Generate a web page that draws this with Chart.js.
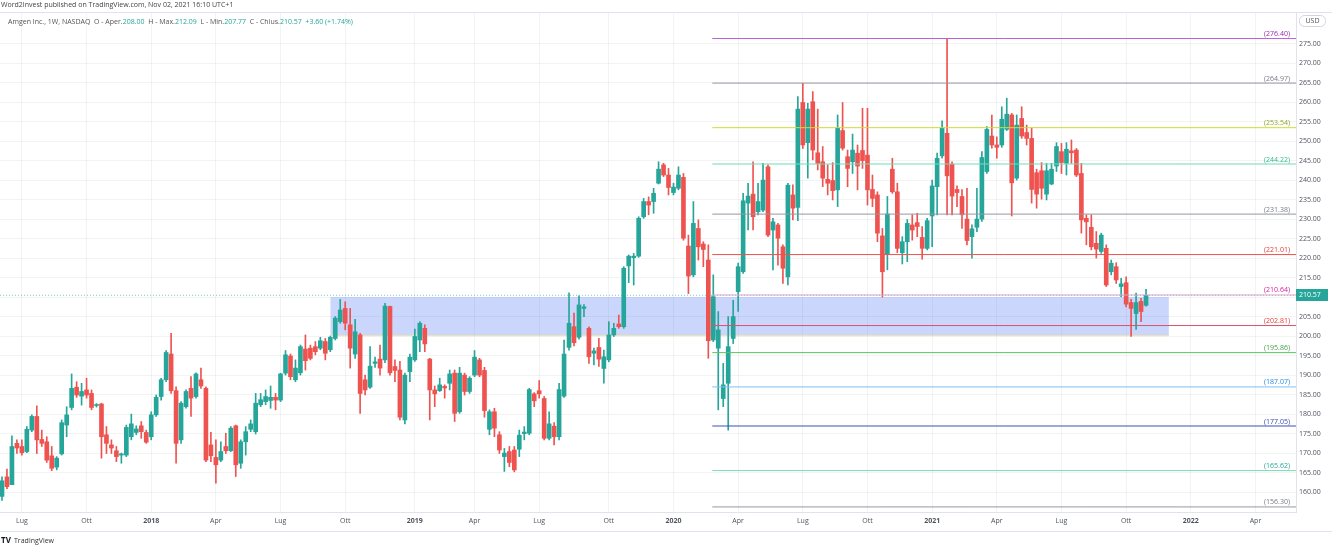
<!DOCTYPE html>
<html>
<head>
<meta charset="utf-8">
<script src="https://cdn.jsdelivr.net/npm/chart.js@4"></script>
<style>
  html, body { margin: 0; padding: 0; background: #fff; }
  #wrap { width: 1332px; height: 550px; }
</style>
</head>
<body>
<div id="wrap"><canvas id="chart" width="1332" height="550"></canvas></div>
<script>
// weekly candles, first one is the week 30 weeks before 2018-01-01
const firstWeek = -30;

const opens = [
  159, 164, 162, 172.6, 171.8, 170.5, 176, 179.5, 173.6, 173, 169.4, 166.5, 169.9, 177.3, 181.8, 187, 184.7, 186.3, 185.4, 182.3, 182.7, 174.8, 172.2, 170.7, 169.6, 169.6, 174.3, 175.4, 177.1, 175.4,
  174.3, 179.9, 184.6, 188.9, 195.5, 186.1, 173.5, 182, 186.7, 184.6, 188.9, 186.7, 172.2, 169, 168.3, 171.8, 170.7, 177.1, 167.5, 173, 176.2, 175.6, 182.5, 183.3, 183.6, 184.4, 183.7, 190.6, 195, 188.9, 190.7, 196.8, 197, 197.4, 197, 198.7, 196.6, 199.5, 203.8, 207.2, 203,
  195.5, 200.4, 188.9, 187, 193.1, 194.2, 194, 207.7, 192.3, 191.4, 178.6, 191, 194, 199.1, 202.1, 194.2, 186.3, 186.1, 187.2, 188, 190.6, 180.7, 190.1, 185.9, 190.1, 194, 191.3, 176.2, 180.7, 174.8, 169.2, 170.5, 170.9, 171.1,
  175.1, 175.2, 185.3, 186.1, 184.1, 173.9, 177, 174.3, 184.7, 197.2, 202.5, 199.8, 207.2, 202.1, 195.7, 197.2, 191.8, 194, 200.4, 203.2, 202.5, 218.1, 220.2, 220.6, 230.7, 234.6, 234.6, 239.3, 244, 241.4, 236.9, 238,
  240.8, 223.2, 215.8, 227.7, 223.7, 219.6, 199.1, 197, 184.1, 188, 199.5, 211.5, 216.6, 234.2, 236.5, 232, 232.4, 243.5, 227.3, 228.6, 223, 215.3, 236.3,
  233.1, 260, 249.7, 260.2, 247.1, 244.8, 240.3, 240, 237.6, 252.8, 246.1, 244.8, 247, 247.7, 246.5, 237.7, 236.3, 225.8, 221.2, 242.9, 237.1, 221.5, 224.3, 228.6, 229.2, 225.4, 222.6, 230.9, 238.4,
  246.3, 252.1, 244.2, 237.7, 235.9, 230.1, 225.6, 228, 230.1, 242.3, 251.4, 249.1, 249.1, 253.1, 256.8, 240.6, 255.9, 252.3, 250.8, 242, 242.5, 236.5, 239.1, 243.7, 247.4, 244.4,
  247.6, 247.8, 241.8, 230.3, 228, 223.9, 221.8, 222.6, 216.6, 217.9, 212.8, 213.8, 208.7, 205.9, 209, 208
];
const highs = [
  164, 166, 174.5, 173.5, 173.5, 176.9, 179.9, 182.2, 176, 174.3, 171.8, 169.2, 178.6, 182, 190.4, 188.4, 188, 189.3, 186.3, 182.8, 182.9, 176.9, 173.5, 171.8, 170.1, 177.3, 180.1, 177.1, 178.2, 176,
  180.7, 185, 189.3, 196.4, 200.8, 187.1, 183.3, 186.3, 189.7, 190.7, 191.9, 187.1, 175.4, 173.5, 173, 175.2, 176.9, 177.3, 173.5, 176.9, 178.6, 185.4, 185.4, 186.3, 187.3, 185.4, 190.6, 196.4, 195.5, 194, 197.8, 200.4, 197.8, 198.7, 199.8, 199.5, 200.1, 205.1, 209.5, 208.9, 207.2,
  204.4, 200.8, 190.1, 197.4, 194.7, 197.8, 208.5, 207.8, 194, 193.6, 190.6, 195.5, 201.9, 203.8, 203, 194.4, 187.3, 189.3, 187.6, 191.4, 191.4, 192.1, 190.6, 189.7, 196.4, 194.4, 192.1, 181.2, 181.6, 175.6, 171.3, 171.8, 171.8, 176,
  176.9, 186.7, 185.6, 188.7, 184.6, 180.7, 177.9, 188, 199.1, 211.2, 206, 210.4, 208.2, 202.5, 197, 199.5, 196.5, 203.8, 203.4, 205.5, 217.9, 220.9, 221.3, 230.7, 235.4, 235.8, 238, 244.8, 244.4, 243.1, 239.3, 243.5,
  241.8, 226, 234.6, 229.9, 224.3, 223.5, 215.8, 206.4, 193.1, 205.1, 209.3, 218.8, 236.7, 239.3, 244.8, 239.3, 244.4, 244, 230.3, 229, 223.5, 239.3, 238.9,
  261.5, 264.9, 259.8, 262.8, 258.3, 248.7, 244, 244.6, 256.8, 260, 247.8, 251.9, 249.1, 258.5, 258.5, 241.4, 237.1, 227.7, 235.9, 245.7, 239.3, 225.6, 230, 231.2, 231.6, 228.2, 230.3, 240.1, 247,
  255.3, 276.4, 244.8, 238.6, 237.7, 238, 228.6, 238, 247.4, 253.8, 256.8, 251.2, 258.9, 261.1, 257.2, 256.8, 258.9, 254.2, 253.4, 242.9, 244.6, 244.4, 244.4, 249.7, 249.5, 249.7,
  250.4, 248.2, 244.4, 231.2, 231.2, 226.9, 226.5, 223.5, 219.6, 218.9, 214.9, 215.3, 209.5, 211.1, 209.8, 212.09
];
const lows = [
  158, 161, 162, 170, 169.6, 170.2, 175.6, 170, 171.8, 167.7, 165.6, 165.8, 169.6, 174.3, 181.2, 184.4, 182.4, 184.2, 181.2, 181.9, 168.8, 170, 170, 167.9, 167.5, 169.2, 173.5, 174.8, 173.9, 172.6,
  173.5, 179.5, 183.7, 188.4, 185.4, 167.5, 172.6, 181.6, 179.5, 184.2, 186.7, 167.9, 167.9, 162.4, 167.9, 170, 170.5, 164.1, 166.2, 169.6, 175.6, 175, 182, 182.5, 181.6, 181.2, 183.3, 190.1, 188.9, 188.4, 190.1, 191.4, 194, 195.3, 196.6, 194, 196.1, 199.1, 203.4, 201.7, 191.9,
  194.4, 180.3, 185, 186.7, 192.1, 190.1, 193.3, 190.1, 188.4, 178.6, 177.6, 188.4, 193.6, 196.1, 196.1, 178.6, 182, 185.9, 184.2, 186.3, 178.2, 180.3, 185, 185.4, 189.7, 189.7, 179.3, 174.8, 174.3, 170, 165.4, 166.6, 165.3, 169.2,
  173.5, 174.8, 182, 184.2, 173.5, 173.5, 172.2, 173.5, 184.4, 196.5, 197.6, 199.3, 205.1, 193.1, 192.7, 192.3, 188, 193.5, 200, 202.1, 202.1, 213.8, 213.2, 220.3, 230.3, 231.2, 231.6, 239.1, 241, 236.3, 236.3, 237.6,
  224.7, 211, 215.3, 219.6, 217.9, 194.4, 198.7, 181.2, 182, 176, 198.2, 206.4, 216.2, 227.3, 227.3, 231.2, 232, 225.6, 217.1, 218.3, 213.6, 213.2, 229.9,
  229.7, 248.2, 240.6, 245.3, 242.7, 238.4, 236.3, 235, 233.3, 247.8, 238.4, 241.8, 237.6, 243.1, 233.7, 233.3, 224.3, 210.1, 217.1, 236.7, 221.5, 218.6, 219.2, 224.7, 225.6, 219.8, 222.2, 223, 231.2,
  245.7, 231.2, 231.2, 233.3, 227.7, 223.5, 220.1, 226.9, 229.5, 241.8, 248.3, 245.7, 248.5, 252.8, 230.9, 240.1, 250.8, 249.1, 234.2, 232.9, 235.2, 235, 238.9, 242.3, 241.8, 241.4,
  244.4, 241, 226.5, 223.5, 222.2, 220.1, 221.3, 212.8, 215.8, 213.6, 210.2, 207.6, 200, 201.8, 203.8, 207.77
];
const closes = [
  163, 161.5, 171.8, 171.4, 170.2, 176.2, 179.5, 173.5, 172.6, 168.3, 166.2, 168.8, 177.9, 179.9, 186.7, 185, 185.9, 185, 181.8, 182.5, 174.3, 172.6, 171.4, 169.2, 169.9, 176.7, 177.6, 176.3, 175.6, 172.9,
  179.9, 184.4, 188.9, 195.9, 186.1, 172.6, 182.9, 185.9, 184.2, 190.4, 187.3, 168.3, 169.4, 167.1, 170.5, 170.7, 176.5, 167.1, 173, 175.6, 177.6, 182.9, 183.8, 184.6, 184.4, 183.7, 190.4, 195.3, 189.7, 191.9, 197.4, 193.8, 194.4, 196.1, 198.9, 195.7, 199.8, 204.7, 206.8, 203.4, 197,
  201.2, 185.4, 186.3, 192.4, 193.5, 191.9, 207.8, 190.7, 191.3, 179.3, 190.1, 194.7, 200, 203.4, 198.1, 186.3, 185.3, 187.6, 186.8, 190.4, 180.3, 190.6, 185.9, 189.3, 194.7, 190.1, 181, 180.7, 176.5, 170.9, 170.1, 167.7, 165.8, 174.7,
  175.5, 186.4, 183.5, 185.3, 173.9, 177.6, 174.3, 186.4, 195.5, 203.4, 198.4, 208.1, 207.6, 194.8, 196.3, 194.2, 194.8, 200.4, 202.1, 202.5, 217.5, 220.6, 220.6, 230.3, 234.6, 233.7, 236.7, 242.9, 241.4, 238.2, 238.3, 241.4,
  225.2, 215.5, 229, 223, 222.3, 198.9, 210.2, 201.7, 187.6, 197.4, 205.1, 217.9, 234.8, 236, 230.7, 234.6, 240.1, 226, 229.4, 225.2, 217.5, 238.8, 232.9,
  258.3, 249.1, 258.3, 247.8, 244.4, 240.6, 239.3, 237.4, 253.4, 248.3, 243.1, 247.8, 243.7, 245.1, 237.6, 235.4, 226.5, 216.6, 231.4, 237.1, 222.6, 224.3, 229, 227.3, 228.2, 222.6, 229.7, 238.6, 245.7,
  253.4, 241.2, 236, 236.9, 231.2, 224.6, 227.6, 230.1, 245.9, 253.1, 249.1, 248.5, 255.7, 257, 239.4, 254.2, 251.4, 250.8, 237.7, 236.5, 238, 242.5, 242.9, 248.7, 244.6, 248,
  247.1, 241.4, 229.9, 229.4, 223, 222.4, 226, 213.2, 218.8, 214.5, 213.5, 208.3, 207.2, 208.7, 206.4, 210.57
];

// x axis labels (week index of first bar of the month)
const tickWeeks = [-26, -13, 0, 13, 26, 39, 53, 65, 78, 92, 105, 118, 131, 144, 157, 170, 183, 196, 209, 222];
const tickLabels = ['Lug', 'Ott', '2018', 'Apr', 'Lug', 'Ott', '2019', 'Apr', 'Lug', 'Ott', '2020', 'Apr', 'Lug', 'Ott', '2021', 'Apr', 'Lug', 'Ott', '2022', 'Apr'];
const priceTicks = [160, 165, 170, 175, 180, 185, 190, 195, 200, 205, 210, 215, 220, 225, 230, 235, 240, 245, 250, 255, 260, 265, 270, 275];

// drawn levels and the support zone
const levels = [276.40, 264.97, 253.54, 244.22, 231.38, 221.01, 210.64, 202.81, 195.86, 187.07, 177.05, 165.62, 156.30];
const levelStart = 112.8;
const zoneWeeks = [36, 204.6];
const zoneTop = 210.1;
const zoneBottom = 200.2;
const prevClose = 206.97;

const levelLineColors = ['#b763d6', '#9598a1', '#cddc39', '#6fdcba', '#9598a1', '#ef5350', '#dba6cb', '#d9536b', '#5bc35f', '#7cc0f0', '#3f51b5', '#7ddcb4', '#9598a1'];
const levelTextColors = ['#9c27b0', '#787b86', '#8da52b', '#2fb98f', '#787b86', '#e53935', '#d81b9a', '#e53935', '#43a047', '#1e88e5', '#3949ab', '#26a69a', '#787b86'];

const upColor = '#26a69a';
const downColor = '#ef5350';
const xMin = -30.4, xMax = 230.15;
const font = '"Open Sans", "DejaVu Sans", sans-serif';

const weeks = opens.map((_, i) => firstWeek + i);
const candleColors = opens.map((o, i) => closes[i] >= o ? upColor : downColor);
const lastIdx = closes.length - 1;
const lastPrice = closes[lastIdx];

const datasets = [];

// candles: wicks then bodies, floating bars on the same x
datasets.push({
  type: 'bar',
  data: weeks.map((w, i) => ({ x: w, y: [lows[i], highs[i]] })),
  backgroundColor: candleColors,
  barThickness: 1,
  grouped: false,
  minBarLength: 1,
  order: 3
});
datasets.push({
  type: 'bar',
  data: weeks.map((w, i) => ({ x: w, y: [opens[i], closes[i]] })),
  backgroundColor: candleColors,
  barThickness: 4,
  grouped: false,
  minBarLength: 1,
  order: 2
});

// zone (fill between two lines)
datasets.push({
  type: 'line',
  data: [{ x: zoneWeeks[0], y: zoneTop }, { x: zoneWeeks[1], y: zoneTop }],
  borderWidth: 0,
  pointRadius: 0,
  fill: false,
  order: 20
});
datasets.push({
  type: 'line',
  data: [{ x: zoneWeeks[0], y: zoneBottom }, { x: zoneWeeks[1], y: zoneBottom }],
  borderColor: '#f0e4a6',
  borderWidth: 1,
  pointRadius: 0,
  fill: '-1',
  backgroundColor: 'rgba(80, 120, 245, 0.3)',
  order: 19
});

// last price line
datasets.push({
  type: 'line',
  data: [{ x: xMin, y: lastPrice }, { x: xMax, y: lastPrice }],
  borderColor: 'rgba(38, 166, 154, 0.6)',
  borderDash: [1, 2],
  borderWidth: 1,
  pointRadius: 0,
  fill: false,
  order: 1
});

// horizontal levels
levels.forEach((lv, i) => {
  datasets.push({
    type: 'line',
    data: [{ x: levelStart, y: lv }, { x: xMax, y: lv }],
    borderColor: levelLineColors[i],
    borderWidth: 1,
    pointRadius: 0,
    fill: false,
    order: 0
  });
});

const overlay = {
  id: 'overlay',
  afterDraw(chart) {
    const ctx = chart.ctx;
    const area = chart.chartArea;
    const yScale = chart.scales.y;
    ctx.save();

    // pane borders
    ctx.strokeStyle = '#e0e3eb';
    ctx.lineWidth = 1;
    ctx.beginPath();
    ctx.moveTo(0, 12.5); ctx.lineTo(1332, 12.5);
    ctx.moveTo(0, 531.5); ctx.lineTo(1332, 531.5);
    ctx.stroke();

    // header
    ctx.textBaseline = 'middle';
    ctx.textAlign = 'left';
    ctx.font = '7px ' + font;
    ctx.fillStyle = '#444';
    ctx.fillText('Word2Invest published on TradingView.com, Nov 02, 2021 16:10 UTC+1', 1, 5);

    const chg = lastPrice - prevClose;
    const parts = [
      ['Amgen Inc., 1W, NASDAQ  O - Aper.', '#555'],
      [opens[lastIdx].toFixed(2), upColor],
      ['  H - Max.', '#555'],
      [highs[lastIdx].toFixed(2), upColor],
      ['  L - Min.', '#555'],
      [lows[lastIdx].toFixed(2), upColor],
      ['  C - Chius.', '#555'],
      [lastPrice.toFixed(2), upColor],
      ['  +' + chg.toFixed(2) + ' (+1.74%)', upColor]
    ];
    let tx = 8;
    parts.forEach(([t, c]) => {
      ctx.fillStyle = c;
      ctx.fillText(t, tx, 22);
      tx += ctx.measureText(t).width;
    });

    // level labels
    ctx.textAlign = 'right';
    ctx.textBaseline = 'bottom';
    levels.forEach((lv, i) => {
      ctx.fillStyle = levelTextColors[i];
      ctx.fillText('(' + lv.toFixed(2) + ')', area.right - 6, yScale.getPixelForValue(lv) - 1);
    });

    // last price tag
    const py = Math.round(yScale.getPixelForValue(lastPrice));
    ctx.fillStyle = upColor;
    ctx.fillRect(area.right, py - 6, 32, 12);
    ctx.fillStyle = '#fff';
    ctx.textAlign = 'left';
    ctx.textBaseline = 'middle';
    ctx.fillText(lastPrice.toFixed(2), area.right + 3, py);

    // currency pill
    ctx.strokeStyle = '#d1d4dc';
    ctx.beginPath();
    ctx.roundRect(area.right + 3.5, 15.5, 26, 11, 5);
    ctx.stroke();
    ctx.fillStyle = '#555';
    ctx.textAlign = 'center';
    ctx.fillText('USD', area.right + 16.5, 21);

    // logo
    ctx.textAlign = 'left';
    ctx.fillStyle = '#131722';
    ctx.font = 'bold 8px ' + font;
    ctx.fillText('TV', 1, 541);
    ctx.font = '7px ' + font;
    ctx.fillStyle = '#333';
    ctx.fillText('TradingView', 14, 541);

    ctx.restore();
  }
};

new Chart(document.getElementById('chart'), {
  type: 'bar',
  data: { datasets: datasets },
  options: {
    responsive: false,
    animation: false,
    devicePixelRatio: 1,
    events: [],
    layout: { padding: { top: 12, bottom: 19, left: 0, right: 0 } },
    plugins: { legend: { display: false }, tooltip: { enabled: false } },
    scales: {
      x: {
        type: 'linear',
        min: xMin,
        max: xMax,
        offset: false,
        afterBuildTicks: (scale) => { scale.ticks = tickWeeks.map(v => ({ value: v })); },
        afterFit: (scale) => { scale.height = 19; },
        grid: { color: 'rgba(42, 46, 57, 0.06)', drawTicks: false, offset: false },
        border: { color: '#e0e3eb' },
        ticks: {
          autoSkip: false,
          maxRotation: 0,
          padding: 5,
          color: '#50535e',
          font: (c) => ({ family: font, size: 7, weight: /^\d{4}$/.test(tickLabels[c.index]) ? 'bold' : 'normal' }),
          callback: (v, i) => tickLabels[i]
        }
      },
      y: {
        position: 'right',
        min: 155,
        max: 283.2,
        afterBuildTicks: (scale) => { scale.ticks = priceTicks.map(v => ({ value: v })); },
        afterFit: (scale) => { scale.width = 36; },
        grid: { color: 'rgba(42, 46, 57, 0.06)', drawTicks: false },
        border: { color: '#e0e3eb' },
        ticks: {
          padding: 3,
          color: '#50535e',
          font: { family: font, size: 7 },
          callback: (v) => Number(v).toFixed(2)
        }
      }
    }
  },
  plugins: [overlay]
});
</script>
</body>
</html>
